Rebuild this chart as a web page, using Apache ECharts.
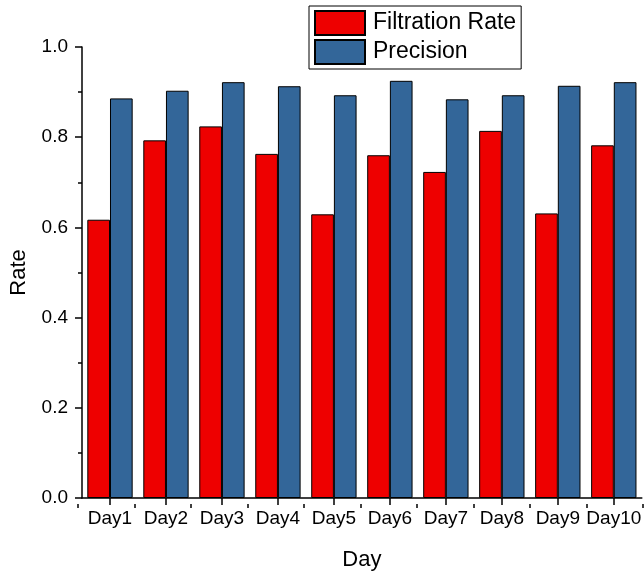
<!DOCTYPE html>
<html>
<head>
<meta charset="utf-8">
<script src="https://cdn.jsdelivr.net/npm/echarts@6/dist/echarts.min.js"></script>
<style>
html, body { margin: 0; padding: 0; background: #fff; }
#chart { width: 644px; height: 576px; }
</style>
</head>
<body>
<div id="chart"></div>
<script>
// categories and series values
var days = ['Day1', 'Day2', 'Day3', 'Day4', 'Day5', 'Day6', 'Day7', 'Day8', 'Day9', 'Day10'];
var filtrationRate = [0.617, 0.793, 0.824, 0.763, 0.629, 0.760, 0.723, 0.814, 0.631, 0.782];
var precision = [0.886, 0.903, 0.922, 0.913, 0.893, 0.925, 0.884, 0.893, 0.914, 0.922];

var font = '"Liberation Sans", Arial, sans-serif';
var myChart = echarts.init(document.getElementById('chart'));

var plotBox = { left: 78, right: 1, top: 47, bottom: 72 };

var option = {
	animation: false,
	textStyle: { fontFamily: font, color: '#000' },
	grid: [plotBox, plotBox],
	legend: {
		orient: 'vertical',
		left: 309,
		top: 6,
		padding: [4, 5, 4, 5],
		itemGap: 3,
		itemWidth: 50,
		itemHeight: 24,
		icon: 'rect',
		borderColor: '#000',
		borderWidth: 1,
		backgroundColor: '#fff',
		textStyle: { fontFamily: font, fontSize: 23, color: '#000', padding: [0, 0, 0, 3] },
		data: ['Filtration Rate', 'Precision']
	},
	xAxis: [{
		type: 'category',
		gridIndex: 0,
		data: days,
		name: 'Day',
		nameLocation: 'middle',
		nameGap: 51,
		nameTextStyle: { fontFamily: font, fontSize: 22, color: '#000' },
		axisLine: { show: true, lineStyle: { color: '#000', width: 1.5 } },
		axisTick: { show: true, alignWithLabel: true, interval: 0, length: 7, lineStyle: { color: '#000', width: 1.5 } },
		axisLabel: { interval: 0, fontFamily: font, fontSize: 19, color: '#000', margin: 11 }
	}, {
		// short ticks on the boundaries between days
		type: 'value',
		gridIndex: 1,
		position: 'bottom',
		min: 0,
		max: 10,
		interval: 1,
		axisLine: { show: false },
		axisTick: { show: true, length: 4, lineStyle: { color: '#000', width: 1.5 } },
		axisLabel: { show: false },
		splitLine: { show: false }
	}],
	yAxis: [{
		type: 'value',
		gridIndex: 0,
		min: 0,
		max: 1,
		interval: 0.2,
		name: 'Rate',
		nameLocation: 'middle',
		nameGap: 52,
		nameTextStyle: { fontFamily: font, fontSize: 22, color: '#000' },
		axisLine: { show: true, lineStyle: { color: '#000', width: 1.5 } },
		axisTick: { show: true, length: 7, lineStyle: { color: '#000', width: 1.5 } },
		minorTick: { show: true, splitNumber: 2, length: 4, lineStyle: { color: '#000', width: 1.5 } },
		splitLine: { show: false },
		axisLabel: {
			fontFamily: font, fontSize: 19, color: '#000', margin: 14,
			formatter: function (v) { return v.toFixed(1); }
		}
	}, {
		type: 'value',
		gridIndex: 1,
		min: 0,
		max: 1,
		show: false
	}],
	series: [{
		name: 'Filtration Rate',
		type: 'bar',
		xAxisIndex: 0,
		yAxisIndex: 0,
		data: filtrationRate,
		barGap: '0%',
		barCategoryGap: '19%',
		itemStyle: { color: '#EE0000', borderColor: '#000', borderWidth: 1 }
	}, {
		name: 'Precision',
		type: 'bar',
		xAxisIndex: 0,
		yAxisIndex: 0,
		data: precision,
		barGap: '0%',
		barCategoryGap: '19%',
		itemStyle: { color: '#336699', borderColor: '#000', borderWidth: 1 }
	}]
};

myChart.setOption(option);
</script>
</body>
</html>
